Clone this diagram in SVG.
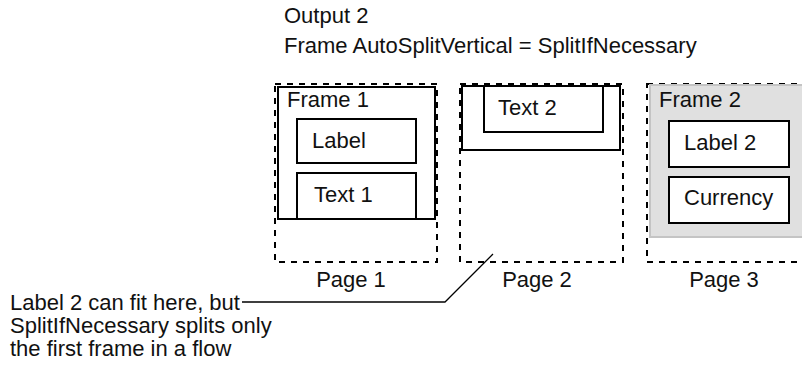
<svg xmlns="http://www.w3.org/2000/svg" width="802" height="367" viewBox="0 0 802 367">
<style>
text{font-family:"Liberation Sans",Arial,sans-serif;font-size:22px;fill:#111}
.page{fill:none;stroke:#000;stroke-width:2;stroke-dasharray:6 6}
.frame{fill:none;stroke:#000;stroke-width:2}
.box{fill:#fff;stroke:#000;stroke-width:2}
.gray{fill:#e0e0e0;stroke:#c4c4c4;stroke-width:2}
.conn{fill:none;stroke:#000;stroke-width:1.3}
</style>
<rect width="802" height="367" fill="#fff"/>
<g id="title">
<text x="284" y="23">Output 2</text>
<text x="284" y="53">Frame AutoSplitVertical = SplitIfNecessary</text>
</g>
<g id="page1">
<rect class="page" x="275" y="84" width="162" height="178"/>
<text x="351" y="287" text-anchor="middle">Page 1</text>
</g>
<g id="frame1">
<rect class="frame" x="278" y="87" width="157" height="132"/>
<text x="287" y="107">Frame 1</text>
</g>
<g id="label">
<rect class="box" x="297" y="119" width="119" height="44"/>
<text x="312" y="148">Label</text>
</g>
<g id="text1">
<rect class="box" x="297" y="173" width="119" height="46"/>
<text x="314" y="202">Text 1</text>
</g>
<g id="page2">
<rect class="page" x="460" y="84" width="163" height="178"/>
<text x="537" y="287" text-anchor="middle">Page 2</text>
</g>
<g id="frame1b">
<rect class="frame" x="462" y="86" width="158" height="64"/>
</g>
<g id="text2">
<rect class="box" x="484" y="86" width="119" height="46"/>
<text x="498" y="115">Text 2</text>
</g>
<g id="page3">
<rect class="page" x="647" y="84" width="160" height="178"/>
<text x="724" y="287" text-anchor="middle">Page 3</text>
</g>
<g id="frame2">
<rect class="gray" x="650" y="85" width="155" height="152"/>
<text x="659" y="107">Frame 2</text>
</g>
<g id="label2">
<rect class="box" x="669" y="121" width="120" height="46"/>
<text x="684" y="150">Label 2</text>
</g>
<g id="currency">
<rect class="box" x="669" y="177" width="120" height="46"/>
<text x="684" y="205">Currency</text>
</g>
<g id="note">
<text x="10" y="310">Label 2 can fit here, but</text>
<text x="10" y="333">SplitIfNecessary splits only</text>
<text x="10" y="356">the first frame in a flow</text>
</g>
<g id="connectors">
<polyline class="conn" points="242,302 445,302 493,254"/>
</g>
</svg>
